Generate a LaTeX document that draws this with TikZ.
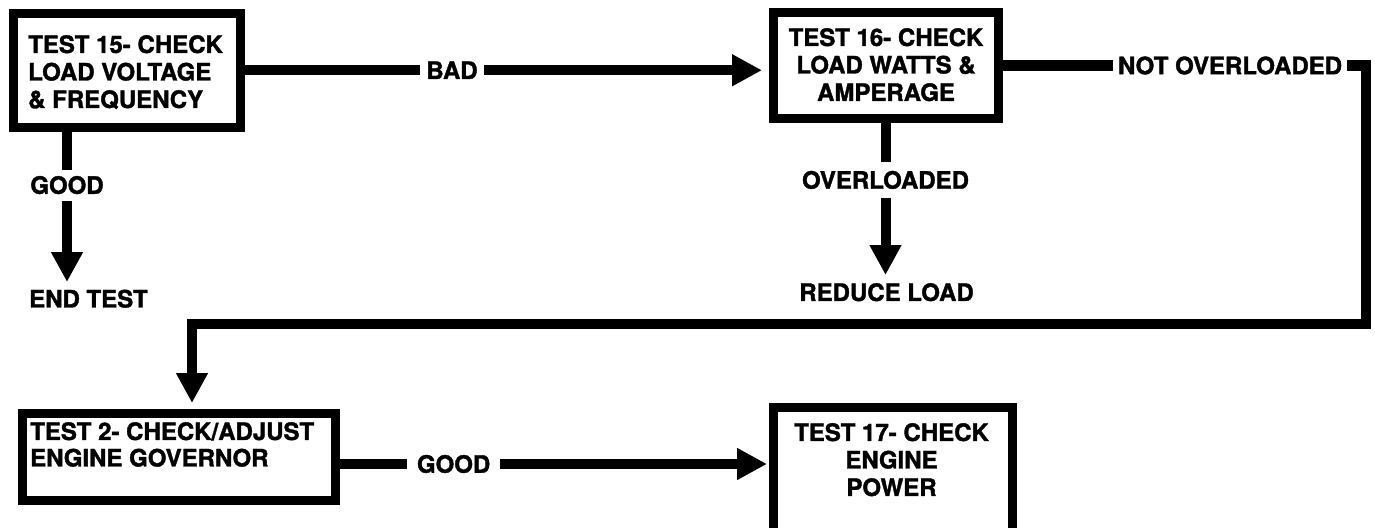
\documentclass[tikz,border=0pt]{standalone}
\usepackage{fontspec}
\setmainfont{TeX Gyre Heros}[BoldFeatures={FakeBold=1.6}]
\usetikzlibrary{arrows.meta}
\tikzset{
  boxnode/.style={draw, line width=9pt, inner sep=0pt, fill=none},
  txt/.style={inner sep=0pt, font=\fontsize{24}{27.5}\selectfont\bfseries},
  lbl/.style={fill=white, inner ysep=7pt, inner xsep=7pt, font=\fontsize{24}{27.5}\selectfont\bfseries},
  conn/.style={line width=10pt, line join=miter, -{Triangle[length=30pt,width=30pt]}},
}
\begin{document}
\begin{tikzpicture}[x=1pt,y=-1pt]
\useasboundingbox (0,0) rectangle (1375,527);
\clip (0,0) rectangle (1375,527);
\fill[white] (0,0) rectangle (1375,527);
% boxes
\node[boxnode, minimum width=227pt, minimum height=113.5pt] (b1) at (126.5,70.25) {};
\node[boxnode, minimum width=225pt, minimum height=105pt] (b2) at (885.5,65.5) {};
\node[boxnode, minimum width=313pt, minimum height=87pt] (b3) at (178.5,456.5) {};
\node[boxnode, minimum width=239.5pt, minimum height=128pt] (b4) at (892.75,471) {};
% box texts
\node[txt, align=left, anchor=north west] (b1t) at (28,35) {TEST 15- CHECK\\LOAD VOLTAGE\\\& FREQUENCY};
\node[txt, align=center, anchor=north] (b2t) at (886,28) {TEST 16- CHECK\\LOAD WATTS \&\\AMPERAGE};
\node[txt, align=left, anchor=north west, font=\fontsize{24}{26.5}\selectfont\bfseries] (b3t) at (30,422) {TEST 2- CHECK/ADJUST\\ENGINE GOVERNOR};
\node[txt, align=center, anchor=north] (b4t) at (891.5,423) {TEST 17- CHECK\\ENGINE\\POWER};
% end texts
\node[txt, anchor=north west] (endt) at (29,289.5) {END TEST};
\node[txt, anchor=north] (rl) at (886.5,283) {REDUCE LOAD};
% connectors
\draw[conn, shorten >=6.5pt] (b1.east) -- node[lbl, pos=0.396, inner xsep=6pt]{BAD} (b1.east -| b2.west);
\coordinate (g1) at ([xshift=58.5pt]b1.south west);
\draw[conn, shorten >=7.5pt] (g1) -- node[lbl, pos=0.339, inner ysep=6.5pt]{GOOD} (g1 |- endt.north);
\draw[conn, shorten >=8pt] (b2.south) -- node[lbl, pos=0.358, inner ysep=9pt]{OVERLOADED} (b2.south |- rl.north);
\coordinate (c1) at (1366,65.5);
\coordinate (c2) at (1366,324);
\coordinate (c3) at (192,324);
\draw[conn, shorten >=5.5pt] (b2.east) -- node[lbl, pos=0.626, inner xsep=5pt]{NOT OVERLOADED} (c1) -- (c2) -- (c3) -- (c3 |- b3.north);
\coordinate (g3) at ([yshift=-7.5pt]b3.east);
\draw[conn, shorten >=1.5pt] (g3) -- node[lbl, pos=0.266, inner xsep=9.5pt]{GOOD} (g3 -| b4.west);
\end{tikzpicture}
\end{document}
